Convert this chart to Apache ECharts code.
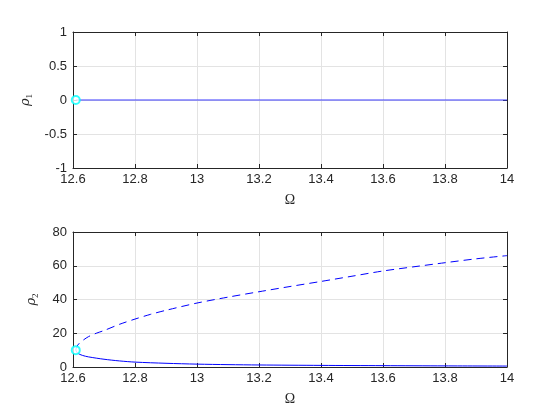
<!DOCTYPE html>
<html><head><meta charset="utf-8">
<script src="https://cdn.jsdelivr.net/npm/echarts@6/dist/echarts.min.js"></script>
<style>html,body{margin:0;padding:0;background:#fff}#c{width:560px;height:420px}</style>
</head><body><div id="c"></div>
<script>
// Data
const omegaTop = [12.609, 12.8, 13.0, 13.2, 13.4, 13.6, 13.8, 14.0];
const rho1 = [0, 0, 0, 0, 0, 0, 0, 0];
const omegaUpper = [12.609, 12.612, 12.62, 12.635, 12.65, 12.675, 12.7, 12.75, 12.8, 12.85, 12.9, 13.0, 13.1, 13.2, 13.3, 13.4, 13.5, 13.6, 13.7, 13.8, 13.9, 14.0];
const rho2Upper = [10, 12, 14, 16.2, 18, 20, 21.6, 25.3, 28.4, 31.2, 33.6, 37.9, 41.4, 44.6, 47.7, 50.7, 53.8, 56.9, 59.4, 61.8, 64.1, 66.0];
const omegaLower = [12.609, 12.615, 12.63, 12.65, 12.7, 12.75, 12.8, 12.9, 13.0, 13.1, 13.2, 13.4, 13.6, 13.8, 14.0];
const rho2Lower = [10, 8.2, 6.9, 6.0, 4.6, 3.6, 2.9, 2.2, 1.7, 1.4, 1.2, 0.95, 0.8, 0.66, 0.55];
const bifOmega = [12.609];
const bifRho1 = [0];
const bifRho2 = [10];
const xTicks = [12.6, 12.8, 13, 13.2, 13.4, 13.6, 13.8, 14];

const axisColor = '#262626';
const gridColor = '#e3e3e3';
const labelFont = {color: axisColor, fontSize: 13, fontFamily: 'Liberation Sans, Arial, sans-serif'};

function xAx(gi, pos, showLabel, name) {
  return {
    type: 'value', gridIndex: gi, position: pos, min: 12.6, max: 14, interval: 0.2,
    axisLine: {show: true, onZero: false, lineStyle: {color: axisColor, width: 1}},
    axisTick: {show: true, inside: true, length: 4, lineStyle: {color: axisColor}},
    axisLabel: showLabel ? Object.assign({margin: 5, formatter: v => String(+v.toFixed(1))}, labelFont) : {show: false},
    splitLine: {show: showLabel, lineStyle: {color: gridColor, width: 1}},
    name: name || '', nameLocation: 'middle', nameGap: 25,
    nameTextStyle: {fontFamily: 'Liberation Serif, serif', fontSize: 14, color: axisColor}
  };
}
function yAx(gi, pos, min, max, interval, showLabel, name) {
  return {
    type: 'value', gridIndex: gi, position: pos, min: min, max: max, interval: interval,
    axisLine: {show: true, onZero: false, lineStyle: {color: axisColor, width: 1}},
    axisTick: {show: true, inside: true, length: 4, lineStyle: {color: axisColor}},
    axisLabel: showLabel ? Object.assign({margin: 6}, labelFont) : {show: false},
    splitLine: {show: showLabel, lineStyle: {color: gridColor, width: 1}},
    name: name || '', nameLocation: 'middle', nameGap: 33,
    nameTextStyle: {
      color: axisColor,
      rich: {
        r: {fontFamily: 'DejaVu Serif, serif', fontStyle: 'italic', fontSize: 13, color: axisColor},
        s: {fontFamily: 'Liberation Serif, serif', fontSize: 9, color: axisColor, verticalAlign: 'bottom', padding: [8, 0, 0, 0]}
      }
    }
  };
}
const zip = (a, b) => a.map((v, i) => [v, b[i]]);

const option = {
  animation: false,
  backgroundColor: '#fff',
  grid: [
    {left: 73, right: 53, top: 32, height: 136},
    {left: 73, right: 53, top: 232, height: 135}
  ],
  xAxis: [
    xAx(0, 'bottom', true, 'Ω'),
    xAx(0, 'top', false),
    xAx(1, 'bottom', true, 'Ω'),
    xAx(1, 'top', false)
  ],
  yAxis: [
    yAx(0, 'left', -1, 1, 0.5, true, '{r|ρ}{s|1}'),
    yAx(0, 'right', -1, 1, 0.5, false),
    yAx(1, 'left', 0, 80, 20, true, '{r|ρ}{s|2}'),
    yAx(1, 'right', 0, 80, 20, false)
  ],
  series: [
    {type: 'line', xAxisIndex: 0, yAxisIndex: 0, data: zip(omegaTop, rho1), showSymbol: false,
     lineStyle: {color: '#3a3aff', width: 1.2}},
    {type: 'line', xAxisIndex: 2, yAxisIndex: 2, data: zip(omegaUpper, rho2Upper), showSymbol: false, smooth: 0.3,
     lineStyle: {color: '#0000ff', width: 1, type: [8, 5]}},
    {type: 'line', xAxisIndex: 2, yAxisIndex: 2, data: zip(omegaLower, rho2Lower), showSymbol: false, smooth: 0.3,
     lineStyle: {color: '#0000ff', width: 1}},
    {type: 'scatter', xAxisIndex: 0, yAxisIndex: 0, data: zip(bifOmega, bifRho1), symbol: 'circle', symbolSize: 8,
     itemStyle: {color: '#fff', borderColor: '#00ffff', borderWidth: 2}, z: 5},
    {type: 'scatter', xAxisIndex: 2, yAxisIndex: 2, data: zip(bifOmega, bifRho2), symbol: 'circle', symbolSize: 8,
     itemStyle: {color: '#fff', borderColor: '#00ffff', borderWidth: 2}, z: 5}
  ]
};
const chart = echarts.init(document.getElementById('c'), null, {renderer: 'canvas'});
chart.setOption(option);
</script>
</body></html>
